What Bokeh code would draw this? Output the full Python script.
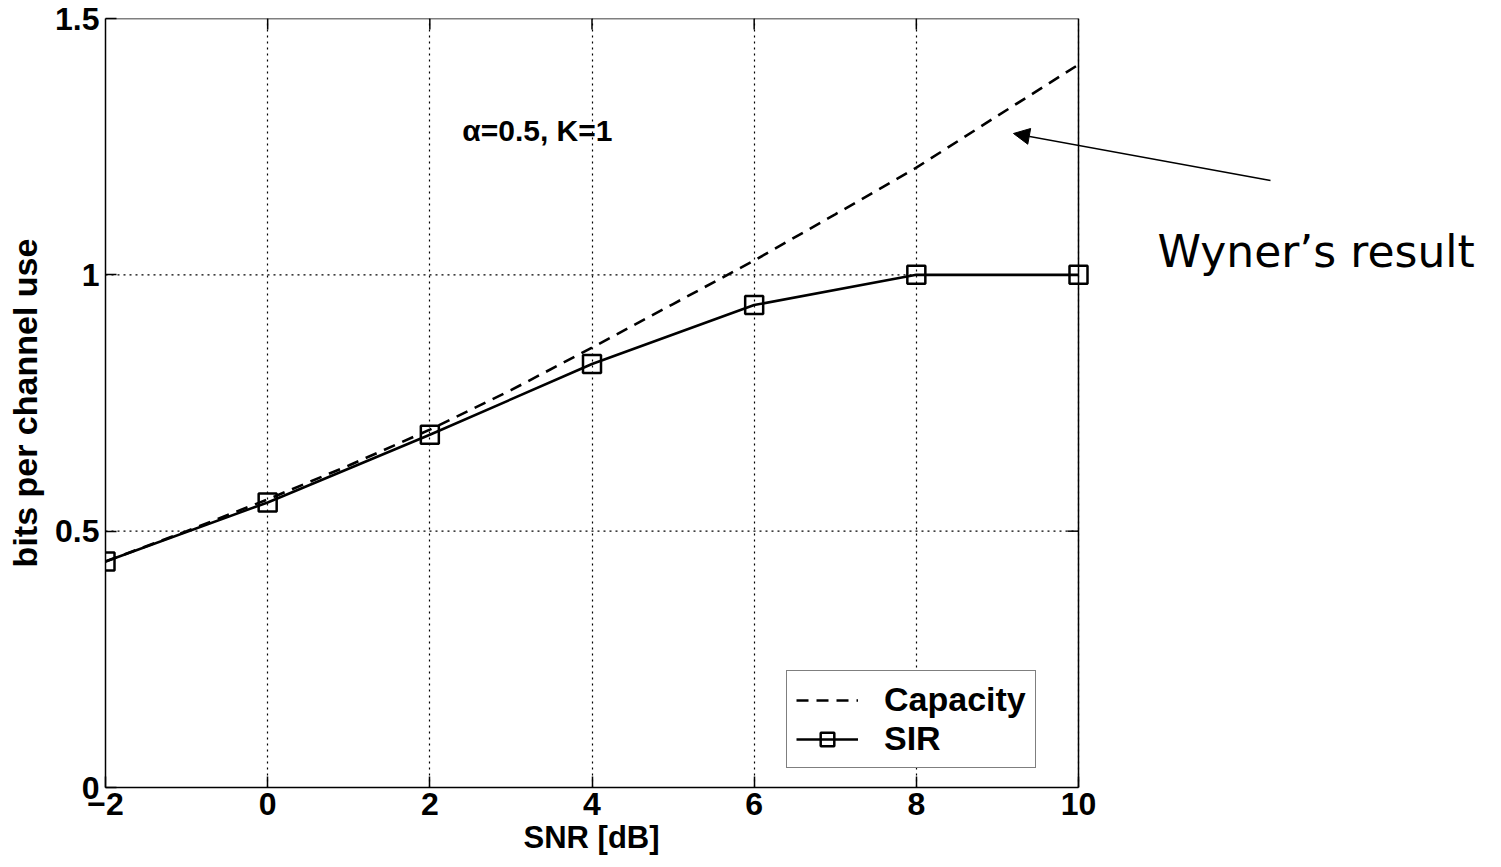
import math
from bokeh.plotting import figure
from bokeh.models import Range1d, Label, Arrow, NormalHead, FixedTicker, Title
from bokeh.embed import file_html
from bokeh.resources import INLINE

# ---- data ----
snr_capacity = [-2, -1, 0, 1, 2, 3, 4, 5, 6, 7, 8, 9, 10]
capacity = [0.441, 0.500, 0.562, 0.628, 0.698, 0.775, 0.858, 0.943, 1.028, 1.118, 1.209, 1.310, 1.410]

snr_sir = [-2, 0, 2, 4, 6, 8, 10]
sir = [0.441, 0.556, 0.688, 0.826, 0.941, 1.0, 1.0]

x_ticks = [-2, 0, 2, 4, 6, 8, 10]
x_tick_labels = {-2: "\u22122", 0: "0", 2: "2", 4: "4", 6: "6", 8: "8", 10: "10"}
y_ticks = [0, 0.5, 1, 1.5]
y_tick_labels = {0: "0", 0.5: "0.5", 1: "1", 1.5: "1.5"}

X_MIN, X_MAX = -2, 10
Y_MIN, Y_MAX = 0, 1.5

FONT = "Liberation Sans"

# the frame is widened to the right so that the annotation outside the box can be drawn
W, H = 1500, 867
LEFT, TOP, BOTTOM = 105, 18, 80
BOX_W = 973
px_per_unit = BOX_W / (X_MAX - X_MIN)
x_end = X_MIN + (W - LEFT) / px_per_unit

p = figure(width=W, height=H, x_range=Range1d(X_MIN, x_end), y_range=Range1d(Y_MIN, Y_MAX),
           output_backend="svg", toolbar_location=None,
           min_border_left=LEFT, min_border_right=0, min_border_top=TOP, min_border_bottom=BOTTOM)
p.background_fill_color = "white"
p.border_fill_color = "white"
p.outline_line_color = None

for ax in p.xaxis:
    ax.ticker = FixedTicker(ticks=x_ticks)
    ax.major_label_overrides = x_tick_labels
    ax.bounds = (X_MIN, X_MAX)
for ax in p.yaxis:
    ax.ticker = FixedTicker(ticks=y_ticks)
    ax.major_label_overrides = y_tick_labels

for ax in list(p.xaxis) + list(p.yaxis):
    ax.major_tick_in = 11
    ax.major_tick_out = 0
    ax.minor_tick_in = 0
    ax.minor_tick_out = 0
    ax.major_tick_line_color = "black"
    ax.major_tick_line_width = 1.5
    ax.axis_line_color = "black"
    ax.axis_line_width = 1.5
    ax.major_label_text_font = FONT
    ax.major_label_text_font_style = "bold"
    ax.major_label_text_font_size = "32px"
    ax.major_label_text_color = "black"

bx = p.below[0]
bx.major_label_standoff = 5

# x-axis title placed under the box (not under the widened frame)
p.add_layout(Title(text="SNR [dB]", align="left", offset=418,
                   text_font=FONT, text_font_style="bold", text_font_size="31px",
                   text_color="black", standoff=0), "below")

ly = p.left[0]
ly.major_label_standoff = 6
ly.axis_label = "bits per channel use"
ly.axis_label_text_font = FONT
ly.axis_label_text_font_style = "bold"
ly.axis_label_text_font_size = "34px"
ly.axis_label_text_color = "black"
ly.axis_label_standoff = 8

# vertical grid
p.xgrid.ticker = FixedTicker(ticks=x_ticks)
p.xgrid.grid_line_color = "black"
p.xgrid.grid_line_dash = "2 4"
p.xgrid.grid_line_width = 1.2
# horizontal grid only inside the box
p.ygrid.visible = False
inner_y = [t for t in y_ticks if Y_MIN < t < Y_MAX]
inner_x = [t for t in x_ticks if X_MIN < t < X_MAX]
p.segment(x0=[X_MIN] * len(inner_y), y0=inner_y, x1=[X_MAX] * len(inner_y), y1=inner_y,
          line_color="black", line_dash="2 4", line_width=1.2)

# top and right sides of the box with inward ticks
p.segment(x0=[X_MAX, X_MIN], y0=[Y_MIN, Y_MAX], x1=[X_MAX, X_MAX], y1=[Y_MAX, Y_MAX],
          line_color="black", line_width=1.5)
p.ray(x=[X_MAX] * len(inner_y), y=inner_y, length=11, length_units="screen", angle=math.pi,
      line_color="black", line_width=1.5)
p.ray(x=inner_x, y=[Y_MAX] * len(inner_x), length=11, length_units="screen", angle=-math.pi / 2,
      line_color="black", line_width=1.5)

p.line(snr_capacity, capacity, line_color="black", line_width=2.6, line_dash="12 8",
       legend_label="Capacity")
p.line(snr_sir, sir, line_color="black", line_width=2.6, legend_label="SIR")
p.scatter(snr_sir, sir, marker="square", size=18, fill_color=None, line_color="black",
          line_width=2.5, legend_label="SIR")

lg = p.legend[0]
lg.location = (681, 19)
lg.label_text_font = FONT
lg.label_text_font_style = "bold"
lg.label_text_font_size = "34px"
lg.label_text_color = "black"
lg.border_line_color = "black"
lg.border_line_width = 1.5
lg.background_fill_alpha = 1
lg.padding = 9
lg.spacing = 0
lg.margin = 0
lg.glyph_width = 62
lg.glyph_height = 34
lg.label_standoff = 26
lg.label_height = 36

p.add_layout(Label(x=2.40, y=1.281, text="\u03b1=0.5, K=1", text_font=FONT,
                   text_font_style="bold", text_font_size="30px", text_baseline="middle",
                   text_color="black"))

p.add_layout(Arrow(x_start=12.368, y_start=1.184, x_end=9.198, y_end=1.2757,
                   line_color="black", line_width=1.6,
                   end=NormalHead(size=16, fill_color="black", line_color="black")))

p.add_layout(Label(x=10.975, y=1.0455, text="Wyner\u2019s result", text_font="DejaVu Sans",
                   text_font_size="44px", text_baseline="alphabetic", text_color="black"))

open("out.html", "w").write(file_html(p, INLINE))
